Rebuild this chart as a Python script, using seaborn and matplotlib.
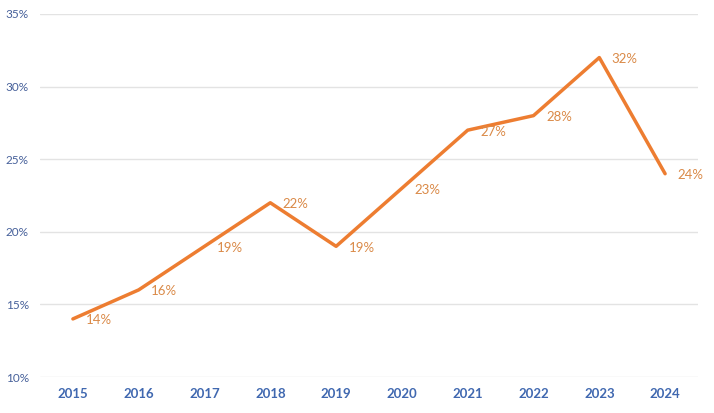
import matplotlib
matplotlib.use("Agg")
import matplotlib.pyplot as plt
import matplotlib.ticker as mtick
import seaborn as sns
import pandas as pd

years = ["2015", "2016", "2017", "2018", "2019", "2020", "2021", "2022", "2023", "2024"]
shares = [14, 16, 19, 22, 19, 23, 27, 28, 32, 24]

LINE = "#ED7D31"
LABEL = "#DA8A48"
XTICK = "#4068B0"
YTICK = "#46609A"

sns.set_theme(style="white")
plt.rcParams['font.family'] = ['Lato', 'DejaVu Sans']

df = pd.DataFrame({"year": years, "share": shares})

fig = plt.figure(figsize=(7.14, 4.13), dpi=100)
ax = fig.add_axes([40/714, 36/413, 658/714, 363/413])

sns.lineplot(data=df, x="year", y="share", color=LINE, linewidth=2.5, ax=ax, sort=False)

for i, v in enumerate(shares):
    ax.annotate(f"{v}%", (i, v), xytext=(9, -1), textcoords="offset points",
                ha="left", va="center", fontsize=9.5, color=LABEL)

ax.set_xlim(-0.5, len(years) - 0.5)
ax.set_ylim(10, 35)
ax.set_yticks(range(10, 36, 5))
ax.yaxis.set_major_formatter(mtick.FuncFormatter(lambda v, p: f"{int(v)}%"))
ax.grid(axis="y", color="#E3E3E3", linewidth=1)
ax.set_axisbelow(True)
for s in ax.spines.values():
    s.set_visible(False)
ax.tick_params(axis="y", length=0, pad=8, labelsize=8.5, labelcolor=YTICK)
ax.tick_params(axis="x", length=0, pad=8, labelsize=9.5, labelcolor=XTICK)
for t in ax.get_xticklabels():
    t.set_fontweight("bold")
ax.set_xlabel("")
ax.set_ylabel("")

fig.savefig("out.png", dpi=100)
